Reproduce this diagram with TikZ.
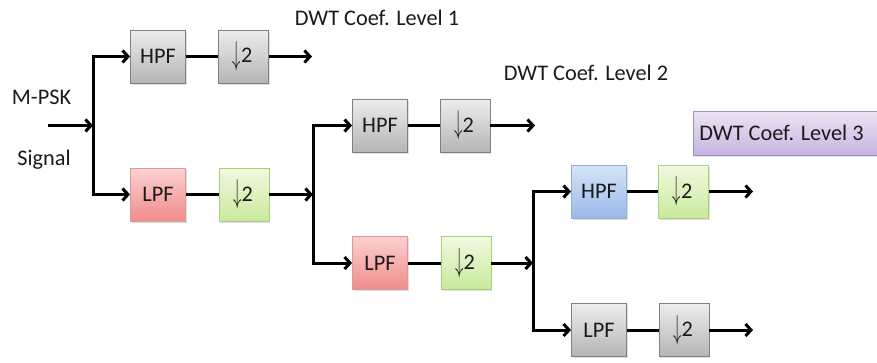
\documentclass[tikz,border=0pt]{standalone}
\usepackage{fontspec}
\usepackage{graphicx}
\setmainfont{Carlito}
\usetikzlibrary{arrows.meta,shadows}
\definecolor{grayT}{HTML}{EDEDED}
\definecolor{grayB}{HTML}{B5B5B5}
\definecolor{grayD}{HTML}{808080}
\definecolor{redT}{HTML}{FBD0D0}
\definecolor{redB}{HTML}{F08C8C}
\definecolor{redD}{HTML}{D99A9A}
\definecolor{grnT}{HTML}{F0F9E0}
\definecolor{grnB}{HTML}{C8EA9C}
\definecolor{grnD}{HTML}{A9D17A}
\definecolor{bluT}{HTML}{D6E4F7}
\definecolor{bluB}{HTML}{99B9E8}
\definecolor{bluD}{HTML}{8EAEDB}
\definecolor{purT}{HTML}{ECE4F3}
\definecolor{purB}{HTML}{C7B4E0}
\definecolor{purD}{HTML}{A48CC4}
\definecolor{txt}{HTML}{1A1A1A}
\tikzset{
  x=1pt,y=-1pt,
  every node/.style={font=\fontsize{22.3}{26}\selectfont, text=txt},
  blk/.style={rectangle, minimum height=53, inner sep=0pt, line width=0.9pt,
    drop shadow={opacity=0.25, shadow xshift=1pt, shadow yshift=-1.5pt}},
  filt/.style={blk, minimum width=55},
  dsm/.style={blk, minimum width=50},
  gbox/.style={draw=grayD, top color=grayT, bottom color=grayB},
  rbox/.style={draw=redD, top color=redT, bottom color=redB},
  gnbox/.style={draw=grnD, top color=grnT, bottom color=grnB},
  bbox/.style={draw=bluD, top color=bluT, bottom color=bluB},
  pbox/.style={draw=purD, top color=purT, bottom color=purB, line width=0.9pt,
    drop shadow={opacity=0.25, shadow xshift=1pt, shadow yshift=-1.5pt}},
  arr/.style={line width=3pt, -{Straight Barb[length=5.5pt,width=12pt]}},
  ln/.style={line width=3pt},
}
\newcommand{\dsmtxt}{\raisebox{-1.8pt}{\scalebox{0.8}[1.6]{$\downarrow$}}\kern0.3pt 2\kern2pt}
\begin{document}
\begin{tikzpicture}
\useasboundingbox (0,0) rectangle (877,362);
% level 1
\node[filt,gbox] (hpf1) at (158,56.5) {HPF};
\node[dsm,gbox] (d1) at (243.5,56.5) {\dsmtxt};
\node[filt,rbox] (lpf1) at (158,194.5) {LPF};
\node[dsm,gnbox] (d1l) at (244,194.5) {\dsmtxt};
% level 2
\node[filt,gbox] (hpf2) at (380,125.5) {HPF};
\node[dsm,gbox] (d2) at (465,125.5) {\dsmtxt};
\node[filt,rbox] (lpf2) at (380,263) {LPF};
\node[dsm,gnbox] (d2l) at (466,263) {\dsmtxt};
% level 3
\node[filt,bbox] (hpf3) at (599,191.5) {HPF};
\node[dsm,gnbox] (d3) at (683.5,191.5) {\dsmtxt};
\node[filt,gbox] (lpf3) at (599,330) {LPF};
\node[dsm,gbox] (d3l) at (684,330) {\dsmtxt};
% labels
\node (mpsk) at (41.5,97.5) {M-PSK};
\node (sig) at (44,160) {Signal};
\node (c1) at (377,18) {DWT Coef. Level 1};
\node (c2) at (586,72.5) {DWT Coef. Level 2};
\node[pbox, minimum width=184, minimum height=44, inner sep=0pt] (c3) at (785,133) {DWT Coef. Level 3\kern7pt};
% coordinates
\coordinate (in) at (48,125.5);
\coordinate (j1) at (93,125.5);
\coordinate (j2) at (313,194.5);
\coordinate (j3) at (533,263);
\coordinate (o1) at (312,56.5);
\coordinate (o2) at (535,125.5);
\coordinate (o3) at (753,191.5);
\coordinate (o4) at (753,330);
% connectors
\draw[arr] (in) -- (j1);
\draw[arr] (j1) |- (hpf1.west);
\draw[arr] (j1) |- (lpf1.west);
\draw[ln] (hpf1) -- (d1);
\draw[arr] (d1) -- (o1);
\draw[ln] (lpf1) -- (d1l);
\draw[arr] (d1l) -- (j2);
\draw[arr] (j2) |- (hpf2.west);
\draw[arr] (j2) |- (lpf2.west);
\draw[ln] (hpf2) -- (d2);
\draw[arr] (d2) -- (o2);
\draw[ln] (lpf2) -- (d2l);
\draw[arr] (d2l) -- (j3);
\draw[arr] (j3) |- (hpf3.west);
\draw[arr] (j3) |- (lpf3.west);
\draw[ln] (hpf3) -- (d3);
\draw[arr] (d3) -- (o3);
\draw[ln] (lpf3) -- (d3l);
\draw[arr] (d3l) -- (o4);
\end{tikzpicture}
\end{document}
